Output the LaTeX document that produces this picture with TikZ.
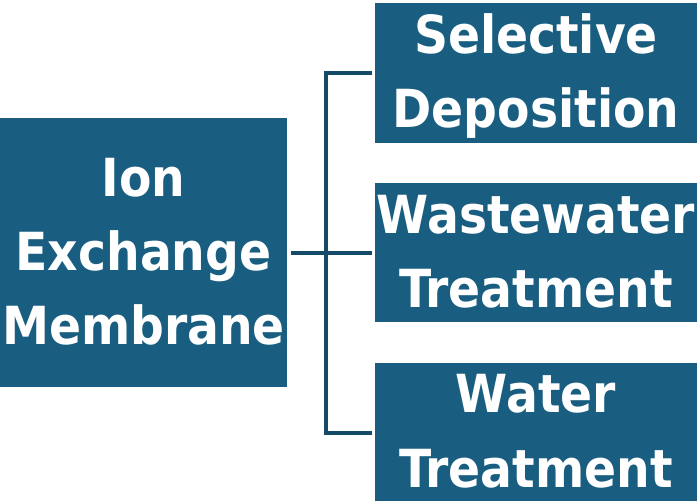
\documentclass[tikz,border=0pt]{standalone}
\usepackage{fontspec}
\setmainfont{DejaVu Sans Condensed}[BoldFont={DejaVu Sans Condensed Bold}]
\definecolor{boxblue}{HTML}{195E80}
\definecolor{lineblue}{HTML}{144A67}
\begin{document}
\begin{tikzpicture}[x=1pt,y=1pt,
  blockbox/.style={fill=boxblue, draw=none},
  label/.style={anchor=base, text=white, inner sep=0pt, font=\fontsize{52.5}{60}\selectfont\bfseries},
  link/.style={draw=lineblue, line width=4.2pt, line join=miter}]
\useasboundingbox (0,0) rectangle (697,501);
% boxes
\path[blockbox] (0,114) rectangle (287,383);
\node[inner sep=0pt, minimum width=287pt, minimum height=269pt] (L) at (143.5,248.5) {};
\path[blockbox] (375,358) rectangle (697,498);
\node[inner sep=0pt, minimum width=322pt, minimum height=140pt] (T) at (536,428) {};
\path[blockbox] (375,178.5) rectangle (697,318);
\node[inner sep=0pt, minimum width=322pt, minimum height=139.5pt] (M) at (536,248.25) {};
\path[blockbox] (375,0) rectangle (697,138);
\node[inner sep=0pt, minimum width=322pt, minimum height=138pt] (B) at (536,69) {};
% texts
\node[label] (l1) at (143.5,304) {Ion};
\node[label] (l2) at (143.5,230) {Exchange};
\node[label] (l3) at (143.5,156) {Membrane};
\node[label] (t1) at (536,447.5) {Selective};
\node[label] (t2) at (536,373) {Deposition};
\node[label] (m1) at (536,267.5) {Wastewater};
\node[label] (m2) at (536,193) {Treatment};
\node[label] (b1) at (536,88) {Water};
\node[label] (b2) at (536,13) {Treatment};
% connectors
\coordinate (J) at (326,248);
\coordinate (JT) at (326,428);
\coordinate (JB) at (326,68);
\draw[link] ([xshift=4pt]L.east |- J) -- ([xshift=-3pt]M.west |- J);
\draw[link] ([xshift=-3pt]T.west |- JT) -- (JT) -- (JB) -- ([xshift=-3pt]B.west |- JB);
\end{tikzpicture}
\end{document}
